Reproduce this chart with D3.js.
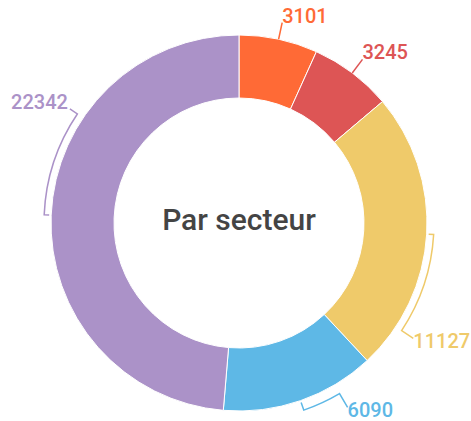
<!DOCTYPE html>
<html>
<head>
<meta charset="utf-8">
<script src="https://cdn.jsdelivr.net/npm/d3@7"></script>
<style>
  body { margin: 0; background: #fff; }
  svg { display: block; font-family: Roboto, sans-serif; }
</style>
</head>
<body>
<svg id="chart" width="471" height="421"></svg>
<script>
"use strict";

// data, clockwise from 12 o'clock
const values = [3101, 3245, 11127, 6090, 22342];
const centerTitle = "Par secteur";

// styles / layout
const colors = ["#ff6a36", "#dd5555", "#efca6a", "#5eb8e6", "#ab92c8"];
// where the label of each slice sits (deg from 12 o'clock); null = straight out of slice middle
const labelAngles = [null, null, 123.5, 149.5, 304];
// how far past the outer edge the leader line ends
const labelReach = [17, 17, 21, 26, 16];
// radius of the bracket that hugs the slice
const bracketGap = [0, 0, 7, 10, 7];

const cx = 239, cy = 223;
const outerR = 188, innerR = 125;

const svg = d3.select("#chart");
const g = svg.append("g").attr("transform", `translate(${cx},${cy})`);

const pie = d3.pie().sort(null).value((d) => d);
const arcs = pie(values);
const arc = d3.arc().innerRadius(innerR).outerRadius(outerR);

const polar = (a, r) => [r * Math.sin(a), -r * Math.cos(a)];

g.selectAll("path.slice")
  .data(arcs)
  .enter()
  .append("path")
  .attr("class", "slice")
  .attr("d", arc)
  .attr("fill", (d, i) => colors[i])
  .attr("stroke", "#fff")
  .attr("stroke-width", 1);

// leader lines + labels
arcs.forEach((d, i) => {
  const mid = (d.startAngle + d.endAngle) / 2;
  let p, end;
  if (labelAngles[i] == null) {
    const a = polar(mid, outerR);
    end = polar(mid, outerR + labelReach[i]);
    p = `M${a}L${end}`;
  } else {
    const la = (labelAngles[i] * Math.PI) / 180;
    const rb = outerR + bracketGap[i];
    const t0 = polar(mid, outerR + 2);
    const t1 = polar(mid, rb);
    const t2 = polar(la, rb);
    end = polar(la, outerR + labelReach[i]);
    const sweep = la > mid ? 1 : 0;
    p = `M${t0}L${t1}A${rb},${rb} 0 0 ${sweep} ${t2}L${end}`;
  }

  g.append("path")
    .attr("d", p)
    .attr("fill", "none")
    .attr("stroke", colors[i])
    .attr("stroke-width", 1.5);

  const right = end[0] > 0;
  const upper = end[1] < 0;
  g.append("text")
    .attr("x", end[0] + (right ? 0 : -2))
    .attr("y", upper ? end[1] : end[1] + 3)
    .attr("dy", upper ? 0 : "0.35em")
    .attr("text-anchor", right ? "start" : "end")
    .attr("font-size", 20)
    .attr("font-weight", 500)
    .attr("fill", colors[i])
    .text(values[i]);
});

g.append("text")
  .attr("x", 0)
  .attr("y", 7)
  .attr("text-anchor", "middle")
  .attr("font-size", 30)
  .attr("font-weight", 500)
  .attr("fill", "#444")
  .text(centerTitle);
</script>
</body>
</html>
